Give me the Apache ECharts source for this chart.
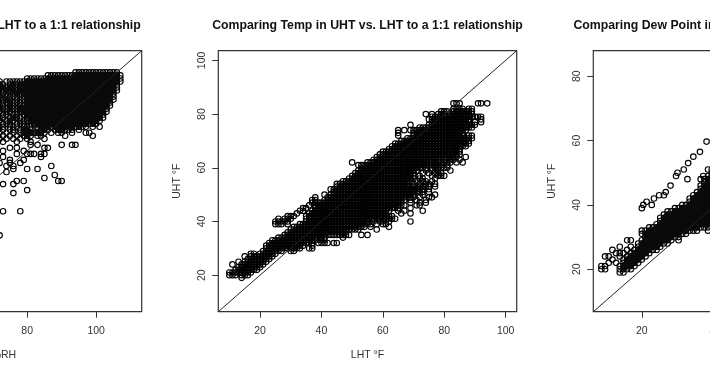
<!DOCTYPE html>
<html>
<head>
<meta charset="utf-8">
<script src="https://cdn.jsdelivr.net/npm/echarts@6/dist/echarts.min.js"></script>
<style>
  html, body { margin: 0; background: #fff; }
  #main { width: 710px; height: 375px; filter: blur(0.4px); }
</style>
</head>
<body>
<div id="main"></div>
<script>
// axis limits of each panel
const rhRange = [26.7, 113.2];
const tempRange = [6.4, 103.6];
const dewRange = [6.8, 87.95];

// tick labels
const rhTicks = [40, 60, 80, 100];
const tempTicks = [20, 40, 60, 80, 100];
const dewTicks = [20, 40, 60, 80];

const titles = [
  "Comparing RH in UHT vs. LHT to a 1:1 relationship",
  "Comparing Temp in UHT vs. LHT to a 1:1 relationship",
  "Comparing Dew Point in UHT vs. LHT to a 1:1 relationship"
];

// each row: first number is UHT, the rest are the LHT values read on that row
const rhRows = [
  [106,94,95,96,97,98,99,100,101,102,103,104,105,106],
  [105,86,87,88,89,90,91,92,93,94,95,96,97,98,99,100,101,102,103,104,105,106,107],
  [104,80,81,82,83,84,85,86,87,88,89,90,91,92,93,94,95,96,97,98,99,100,101,102,103,104,105,106,107],
  [103,71,72,74,75,76,77,78,79,80,81,82,83,84,85,86,87,88,89,90,91,92,93,94,95,96,97,98,99,100,101,102,103,104,105,106,107],
  [102,71,72,73,75,76,77,78,79,80,81,82,83,84,85,86,87,88,89,90,91,92,93,94,95,96,97,98,99,100,101,102,103,104,105,106],
  [101,72,73,74,75,76,78,79,80,81,82,83,84,85,86,87,88,89,90,91,92,93,94,95,96,97,98,99,100,101,102,103,104,105,106],
  [100,71,73,74,75,76,77,78,79,80,81,82,83,84,85,86,87,88,89,90,91,92,93,94,95,96,97,98,99,100,101,102,103,104,105,106],
  [99,71,72,73,74,76,77,78,79,80,81,82,83,84,85,86,87,88,89,90,91,92,93,94,95,96,97,98,99,100,101,102,103,104,105],
  [98,72,74,75,76,77,79,80,81,82,83,84,85,86,87,88,89,90,91,92,93,94,95,96,97,98,99,100,101,102,103,104,105],
  [97,71,72,73,74,75,77,78,79,80,81,82,83,84,85,86,87,88,89,90,91,92,93,94,95,96,97,98,99,100,101,102,103,104,105],
  [96,71,73,74,75,76,77,78,80,81,82,83,84,85,86,87,88,89,90,91,92,93,94,95,96,97,98,99,100,101,102,103,104],
  [95,71,72,73,75,76,78,79,80,81,82,83,84,85,86,87,88,89,90,91,92,93,94,95,96,97,98,99,100,101,102,103,104],
  [94,72,73,74,75,76,77,78,79,80,81,82,83,84,85,86,87,88,89,90,91,92,93,94,95,96,97,98,99,100,101,102,103],
  [93,71,72,74,75,77,78,79,80,81,82,83,84,85,86,87,88,89,90,91,92,93,94,95,96,97,98,99,100,101,102,103],
  [92,71,73,74,76,77,79,80,81,82,83,84,85,86,87,88,89,90,91,92,93,94,95,96,97,98,99,100,101,102],
  [91,71,72,73,75,76,77,78,80,81,82,83,84,85,86,87,88,89,90,91,92,93,94,95,96,97,98,99,100,101,102],
  [90,72,74,75,76,78,79,80,81,82,83,84,85,86,87,88,89,90,91,92,93,94,95,96,97,98,99,100,101],
  [89,71,73,74,75,77,78,79,81,82,83,84,85,86,87,88,89,90,91,92,93,94,95,96,97,98,99,100],
  [88,72,73,75,76,77,79,80,81,83,84,85,86,87,88,89,90,91,92,93,94,95,96,97,99,101],
  [87,71,73,75,76,78,79,80,81,83,84,85,86,88,89,90,91,92,93,95],
  [86,72,74,76,78,79,80,81,82,83,84,85,87,89,90,93,97,98],
  [85,71,73,75,77,79,80,81,83,84,91,99],
  [84,72,74,76,78,80,85],
  [83,73,77,81],
  [82,81,83,90,93,94],
  [81,75,77,85,86],
  [80,73,79],
  [79,77,80,81,82,84,85],
  [78,73,84],
  [77,75,79],
  [76,72,75,78],
  [75,74,76,87],
  [74,76,80,83],
  [73,74],
  [72,88],
  [71,85],
  [70,77,79,89,90],
  [69,73,76],
  [67,80],
  [66,76],
  [60,73,78],
  [52,72]
];

const tempRows = [
  [19,14],
  [20,10,11,12,14,15,16],
  [21,10,11,12,13,14,15,16,17],
  [22,12,13,14,15,16,17,18,19],
  [23,13,14,15,16,17,18,19,20],
  [24,11,14,15,16,17,18,19,20,21],
  [25,13,15,16,17,18,19,20,21,22],
  [26,16,17,18,19,20,21,22,23],
  [27,15,17,18,19,20,21,22,23,24],
  [28,17,18,20,21,22,23,24,25],
  [29,21,22,23,24,25,26,27,30,31],
  [30,22,23,24,25,26,27,28,29,30,31,32,33,36,37],
  [31,22,23,24,25,26,27,28,29,30,31,32,33,34,37],
  [32,23,24,25,26,27,28,29,30,31,32,33,34,35,36,37,39,40,41,42,44,45],
  [33,24,25,26,27,28,29,30,31,32,33,34,35,36,37,38,40,41],
  [34,26,27,28,29,30,31,32,33,34,35,36,37,38,39,40,41,47],
  [35,28,29,30,31,32,33,34,35,36,37,38,39,40,41,42,43,44,45,46,47,48,49,53,55],
  [36,29,30,31,32,33,34,35,36,37,38,39,40,41,42,43,44,45,46,47,48],
  [37,30,31,32,33,34,35,36,37,38,39,40,41,42,43,44,45,46,47,48,49,50,51,52,58],
  [38,31,32,33,34,35,36,37,38,39,40,41,42,43,44,45,46,47,48,49,50,51,52,53,54,56,62],
  [39,25,26,27,29,33,34,35,36,37,38,39,40,41,42,43,44,45,46,47,48,49,50,51,52,53,54,55,56,58,60,61],
  [40,25,26,27,28,29,35,36,37,38,39,40,41,42,43,44,45,46,47,48,49,50,51,52,53,54,55,57,59,60,62,69],
  [41,26,28,29,30,35,36,37,38,39,40,41,42,43,44,45,46,47,48,49,50,51,52,53,54,55,56,57,58,59,60,61,62,63,64],
  [42,29,30,31,35,36,37,38,39,40,41,42,43,44,45,46,47,48,49,50,51,52,53,54,55,56,57,58,59,60,61,62,63],
  [43,32,36,37,38,39,40,41,42,43,44,45,46,47,48,49,50,51,52,53,54,55,56,57,58,59,60,61,66,69],
  [44,33,34,37,38,39,40,41,42,43,44,45,46,47,48,49,50,51,52,53,54,55,56,57,58,59,60,61,62,65,67,73],
  [45,34,35,38,39,40,41,42,43,44,45,46,47,48,49,50,51,52,53,54,55,56,57,58,59,60,61,62,63,64,65,69],
  [46,36,38,39,40,41,42,43,44,45,46,47,48,49,50,51,52,53,54,55,56,57,58,59,60,61,62,63,64,65,66,67,71,72],
  [47,37,38,39,40,41,42,43,44,45,46,47,48,49,50,51,52,53,54,55,56,57,58,59,60,61,62,63,64,65,66,69,72,74],
  [48,37,38,41,42,43,44,45,46,47,48,49,50,51,52,53,54,55,56,57,58,59,60,61,62,63,64,65,66,67,69,71,74],
  [49,38,42,43,44,45,46,47,48,49,50,51,52,53,54,55,56,57,58,59,60,61,62,63,64,65,66,67,68,69,70,72,75,76],
  [50,41,43,44,45,46,47,48,49,50,51,52,53,54,55,56,57,58,59,60,61,62,63,64,65,66,67,68,69,70,73,77],
  [51,44,45,46,47,48,49,50,51,52,53,54,55,56,57,58,59,60,61,62,63,64,65,66,67,68,69,70,71,72,73,75],
  [52,43,44,45,46,47,48,49,50,51,52,53,54,55,56,57,58,59,60,61,62,63,64,65,66,67,68,69,70,71,72,73,75],
  [53,45,46,47,48,49,50,51,52,53,54,55,56,57,58,59,60,61,62,63,64,65,66,67,68,69,70,71,72,73,74,75,77],
  [54,45,46,47,48,49,50,51,52,53,54,55,56,57,58,59,60,61,62,63,64,65,66,67,68,70,72,74,75,77],
  [55,47,48,49,50,51,52,53,54,55,56,57,58,59,60,61,62,63,64,65,66,67,68,69,71,73,74,76],
  [56,49,50,51,52,53,54,55,56,57,58,59,60,61,62,63,64,65,66,67,68,69,70,72,73,77],
  [57,50,51,52,53,54,55,56,57,58,59,60,61,62,63,64,65,66,67,68,69,70,72,76,78,79,80],
  [58,51,52,53,54,55,56,57,58,59,60,61,62,63,64,65,66,67,68,69,70,73,75,77,78,79],
  [59,52,53,54,55,56,57,58,59,60,61,62,63,64,65,66,67,68,69,70,71,74,76,78,82],
  [60,53,54,55,56,57,58,59,60,61,62,63,64,65,66,67,68,69,70,71,72,73,74,76,77,78,79,80,81],
  [61,52,53,54,55,56,57,58,59,60,61,62,63,64,65,66,67,68,69,70,71,72,73,74,75,76,77,78,79,81],
  [62,50,55,56,57,58,59,60,61,62,63,64,65,66,67,68,69,70,71,72,73,74,76,77,78,79,80,81,82,84,86],
  [63,57,58,59,60,61,62,63,64,65,66,67,68,69,70,71,72,73,74,75,76,77,78,80,82,83,85],
  [64,58,59,60,61,62,63,64,65,66,67,68,69,70,71,72,73,74,75,76,77,78,79,80,81,82,83,84,87],
  [65,59,60,61,62,63,64,65,66,67,68,69,70,71,72,73,74,75,76,77,78,79,80,81,82,83,84,85],
  [66,60,61,62,63,64,65,66,67,68,69,70,71,72,73,74,75,76,77,78,79,80,81,82,83,84,85],
  [67,62,63,64,65,66,67,68,69,70,71,72,73,74,75,76,77,78,79,80,81,82,83,84,85],
  [68,63,64,65,66,67,68,69,70,71,72,73,74,75,76,77,78,79,80,81,82,83,84,85,86,87],
  [69,64,65,66,67,68,69,70,71,72,73,74,75,76,77,78,79,80,81,82,83,84,85,86,87,88],
  [70,66,67,68,69,70,71,72,73,74,75,76,77,78,79,80,81,82,83,84,85,86,87,88],
  [71,68,69,70,71,72,73,74,75,76,77,78,79,80,81,82,83,84,85,86,87,88,89],
  [72,65,70,71,72,73,74,75,76,77,78,79,80,81,82,83,84,85,86,88,89],
  [73,65,70,71,72,73,74,75,76,77,78,79,80,81,82,83,84,85,86],
  [74,65,67,69,70,71,72,73,74,75,76,77,78,79,80,81,82,83,84,85,86,87],
  [75,72,73,74,75,76,77,78,79,80,81,82,83,84,85,86,87,88,89],
  [76,69,75,76,77,78,79,80,81,82,83,84,85,86,87,88,89,90],
  [77,76,77,78,79,80,81,82,83,84,85,86,87,88,90,92],
  [78,75,76,77,78,79,80,81,82,83,84,85,86,87,88,92],
  [79,76,77,78,79,80,81,82,83,84,85,86,87,88,89,90,91,92],
  [80,74,76,78,79,80,82,83,84,85,86,87,88,89],
  [81,79,80,81,83,84,85,86,87,88,89],
  [82,83,84,85,86,88,89],
  [84,83,84,85,91,92,94]
];

const dewRows = [
  [19,14,15],
  [20,9,10,14,15,16,17],
  [21,9,10,14,15,16,17,18],
  [22,11,13,15,16,17,18,19],
  [23,12,15,16,17,18,19,20],
  [24,10,11,14,16,17,18,19,20,21],
  [25,13,14,15,17,18,19,20,21,22],
  [26,12,16,18,19,20,21,22,23,24],
  [27,14,17,19,20,21,22,23,24,25],
  [28,19,20,21,22,23,24,25,26,27],
  [29,16,17,20,21,22,23,24,25,26,27,28,30],
  [30,21,22,23,24,25,26,27,28,29,30],
  [31,20,21,22,23,24,25,26,27,28,29,30,31,32],
  [32,20,21,22,23,24,25,26,27,28,29,30,31,32,33,34,35,38],
  [33,22,23,24,25,26,27,28,29,30,31,32,33,34,35,36,37,38],
  [34,24,25,26,27,28,29,30,31,32,33,34,35,36,37,38,39,40],
  [35,25,26,27,28,29,30,31,32,33,34,35,36,37,38,39,40,41],
  [36,25,26,27,28,29,30,31,32,33,34,35,36,37,38,39,40,41],
  [37,26,27,28,29,30,31,32,33,34,35,36,37,38,39,40,41],
  [38,27,28,29,30,31,32,33,34,35,36,37,38,39,40,41],
  [39,20,29,30,31,32,33,34,35,36,37,38,39,40,41],
  [40,20.4,22.7,31,32,33,34,35,36,37,38,39,40,41],
  [41,21.3,33,34,35,36,37,38,39,40,41],
  [42,23.3,33,34,35,36,37,38,39,40,41],
  [43,24.7,26,34,35,36,37,38,39,40,41],
  [44,26.5,35,36,37,38,39,40,41],
  [45,36,37,38,39,40,41],
  [46,27.8,36,37,38,39,40,41],
  [47,37,38,39,40,41],
  [48,32.4,36,37,38,39,40,41],
  [49,29.3,36.7,38,39,40,41],
  [50,29.7,39,40,41],
  [51,31.4,38,39,40,41],
  [53,32.6,41],
  [55,34],
  [56.5,35.8],
  [59.7,37.6]
];

// 1:1 reference line end points
const rhLine = [[rhRange[0], rhRange[0]], [rhRange[1], rhRange[1]]];
const tempLine = [[tempRange[0], tempRange[0]], [tempRange[1], tempRange[1]]];
const dewLine = [[dewRange[0], dewRange[0]], [dewRange[1], dewRange[1]]];

const toPoints = rows => rows.flatMap(([y, ...xs]) => xs.map(x => [x, y]));

// points with a neighbour on all four sides, used to close up the black mass
function corePoints(points) {
  const seen = new Set(points.map(p => p.join()));
  return points.filter(([x, y]) =>
    seen.has([x - 1, y].join()) && seen.has([x + 1, y].join()) &&
    seen.has([x, y - 1].join()) && seen.has([x, y + 1].join()));
}

const textColor = "#333";
const panels = [
  { left: -156.7, range: rhRange, ticks: rhTicks, rows: rhRows, line: rhLine, xName: "LHT %RH", yName: "UHT %RH", solid: true },
  { left: 218.3, range: tempRange, ticks: tempTicks, rows: tempRows, line: tempLine, xName: "LHT °F", yName: "UHT °F", solid: false },
  { left: 593.3, range: dewRange, ticks: dewTicks, rows: dewRows, line: dewLine, xName: "LHT °F", yName: "UHT °F", solid: true }
];
const boxWidth = 298.4;

function axis(p, pos) {
  const isY = pos === "left";
  return {
    type: "value",
    position: pos,
    min: p.range[0],
    max: p.range[1],
    name: isY ? p.yName : p.xName,
    nameLocation: "middle",
    nameGap: isY ? 36 : 38,
    nameTextStyle: { color: textColor, fontSize: 10.5, fontFamily: "Liberation Sans" },
    splitLine: { show: false },
    axisLine: { show: false },
    axisTick: { show: true, length: 6, customValues: p.ticks, lineStyle: { color: "#333", width: 1 } },
    axisLabel: {
      customValues: p.ticks,
      rotate: isY ? 90 : 0,
      margin: isY ? 11 : 14,
      color: textColor,
      fontSize: 10.5,
      fontFamily: "Liberation Sans"
    }
  };
}

const chart = echarts.init(document.getElementById("main"), null, { renderer: "canvas" });
chart.setOption({
  animation: false,
  backgroundColor: "#fff",
  title: panels.map((p, i) => ({
    text: titles[i],
    left: p.left + boxWidth / 2,
    top: 20,
    padding: 0,
    textAlign: "center",
    textStyle: { color: "#111", fontSize: 12.3, fontWeight: "bold", fontFamily: "Liberation Sans" }
  })),
  grid: panels.map(p => ({
    left: p.left,
    top: 50.7,
    width: boxWidth,
    height: 261,
    outerBoundsMode: "none",
    show: true,
    borderColor: "#333",
    borderWidth: 1.2,
    backgroundColor: "#fff"
  })),
  xAxis: panels.map((p, i) => ({ gridIndex: i, ...axis(p, "bottom") })),
  yAxis: panels.map((p, i) => ({ gridIndex: i, ...axis(p, "left") })),
  series: panels.flatMap((p, i) => {
    const points = toPoints(p.rows);
    const list = [
      {
        type: "scatter",
        xAxisIndex: i,
        yAxisIndex: i,
        data: points,
        symbol: "circle",
        symbolSize: 5.5,
        silent: true,
        itemStyle: { color: "transparent", borderColor: "#000", borderWidth: 1.15, opacity: 1 }
      },
      {
        type: "line",
        xAxisIndex: i,
        yAxisIndex: i,
        data: p.line,
        showSymbol: false,
        silent: true,
        lineStyle: { color: "#222", width: 1 }
      }
    ];
    if (p.solid) {
      list.push({
        type: "scatter",
        xAxisIndex: i,
        yAxisIndex: i,
        data: corePoints(points),
        symbol: "circle",
        symbolSize: 6,
        silent: true,
        itemStyle: { color: "#0a0a0a", opacity: 1 }
      });
    }
    return list;
  })
});
</script>
</body>
</html>
